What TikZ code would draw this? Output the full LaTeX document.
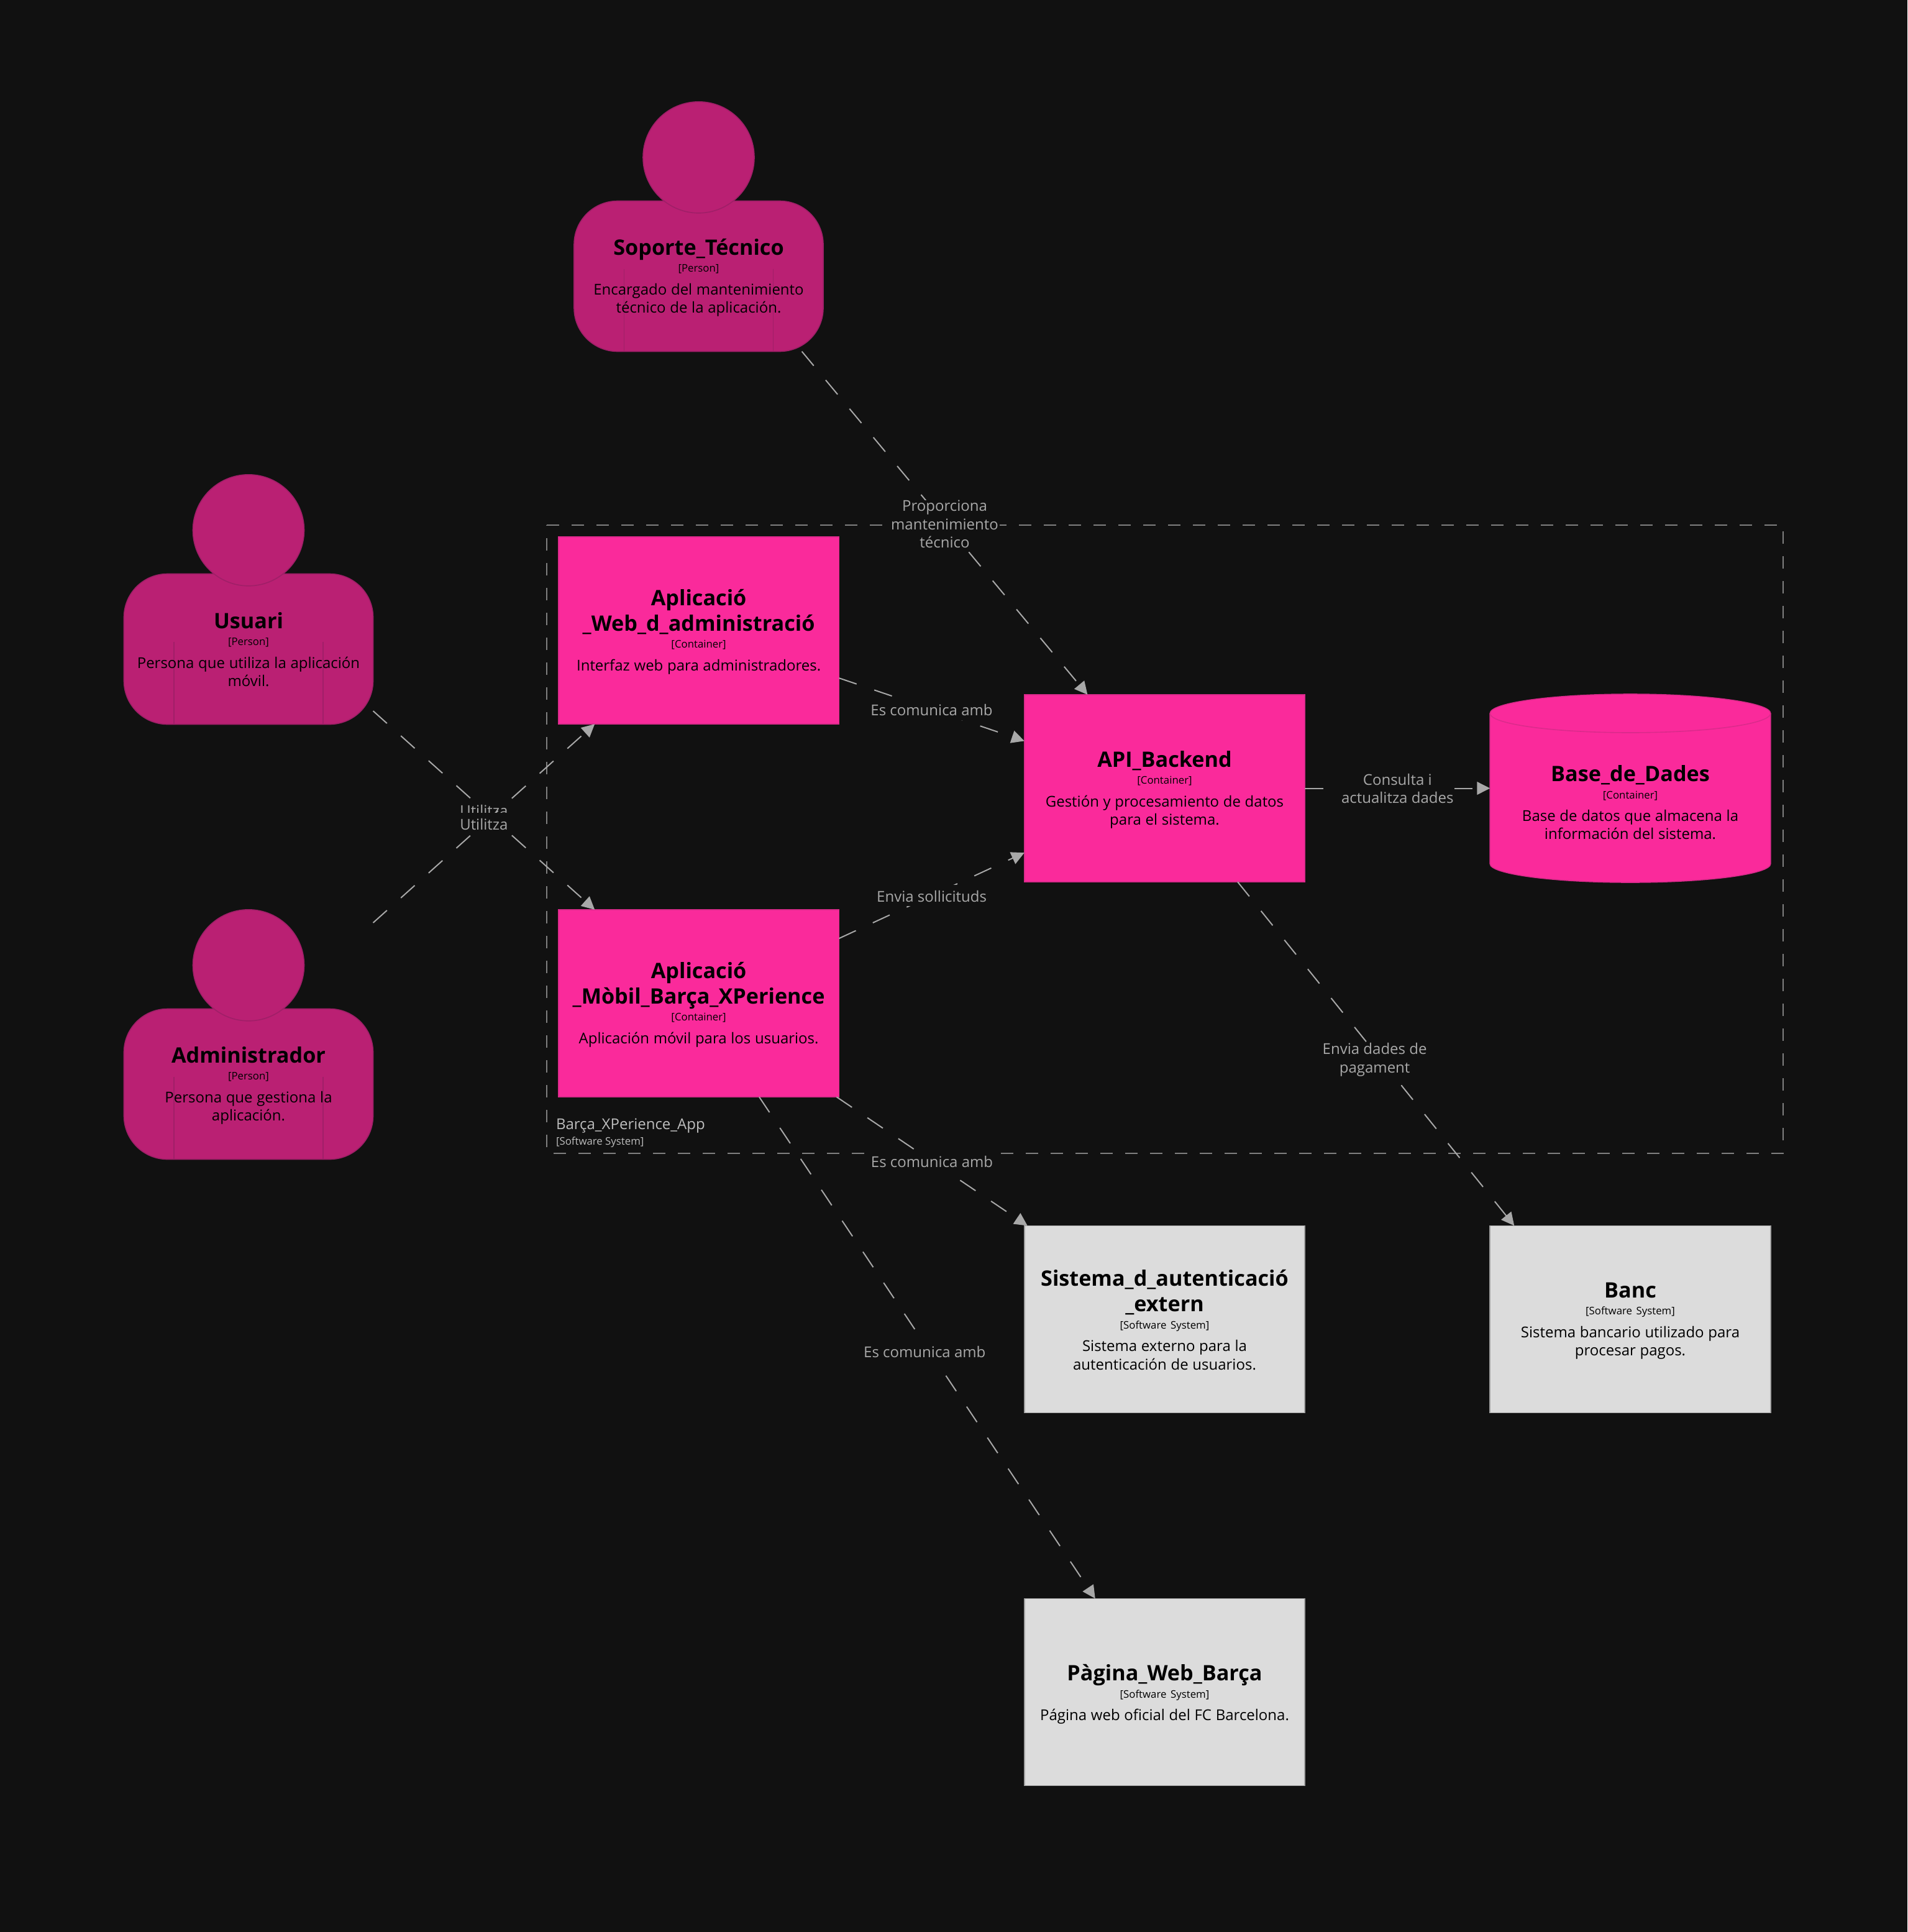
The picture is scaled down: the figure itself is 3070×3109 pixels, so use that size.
\documentclass[tikz,border=0pt]{standalone}
\usepackage{fontspec}
\setmainfont{Open Sans}
\usetikzlibrary{arrows.meta,calc}
\definecolor{bgc}{HTML}{111111}
\definecolor{pinkc}{HTML}{FA2A9B}
\definecolor{pinkl}{HTML}{DC2A8C}
\definecolor{persc}{HTML}{BA2073}
\definecolor{persl}{HTML}{A01F68}
\definecolor{greyc}{HTML}{DCDCDC}
\definecolor{greyl}{HTML}{A0A0A0}
\definecolor{relc}{HTML}{A8A8A8}
\definecolor{boundc}{HTML}{808080}
\definecolor{boundt}{HTML}{BDBDBD}
\newcommand{\titlef}{\fontsize{17.1}{20.5}\bfseries\selectfont}
\newcommand{\metaf}{\fontsize{8.4}{13.7}\selectfont}
\newcommand{\descf}{\fontsize{12}{14.65}\selectfont}
\tikzset{
  elembox/.style={rectangle,inner sep=0pt,outer sep=0pt,minimum width=225.75pt,minimum height=150.6pt,line width=.8pt},
  cbox/.style={elembox,fill=pinkc,draw=pinkl},
  sbox/.style={elembox,fill=greyc,draw=greyl},
  dbframe/.style={elembox},
  pframe/.style={rectangle,inner sep=0pt,outer sep=0pt,minimum width=200.5pt,minimum height=201pt},
  pbody/.style={rectangle,inner sep=0pt,outer sep=0pt,minimum width=200.5pt,minimum height=121pt,rounded corners=35pt,fill=persc,draw=persl,line width=.8pt},
  phead/.style={circle,inner sep=0pt,outer sep=0pt,minimum size=89.5pt,fill=persc,draw=persl,line width=.8pt},
  pline/.style={draw=persl,line width=.8pt},
  elemtext/.style={text width=224pt,inner sep=0pt,outer sep=0pt,align=center,text=black},
  rel/.style={draw=relc,line width=1pt,dash pattern=on 15pt off 15pt,-{Triangle[length=10.4pt,width=10.3pt,fill=relc]}},
  edgelabel/.style={fill=bgc,text=relc,font=\descf,align=center,inner xsep=1pt,inner ysep=0pt,outer sep=0pt,
    execute at begin node={\rule{0pt}{13.5pt}},execute at end node={\rule[-3.5pt]{0pt}{3.5pt}}},
  boundary/.style={draw=boundc,line width=1pt,dash pattern=on 10pt off 10pt},
  boundlabel/.style={anchor=base west,text=boundt,inner sep=0pt,outer sep=0pt}
}
\newcommand{\person}[3]{%
  \node[pframe] (#1) at (#2,#3) {};
  \node[pbody] (#1body) at ($(#1)+(0,80)$) {};
  \draw[pline] ($(#1)+(-120,68)$) -- ($(#1)+(-120,201)$);
  \draw[pline] ($(#1)+(120,68)$) -- ($(#1)+(120,201)$);
  \node[phead] (#1head) at ($(#1)+(0,-111.2)$) {};
}
\newcommand{\etxt}[5]{%
  \node[elemtext] (#1txt) at ($(#1)+(0,#2)$) {{\titlef #3\par}{\metaf #4\par}\vskip3.65pt{\descf #5\par}};
}
\begin{document}
\begin{tikzpicture}[x=.5pt,y=-.5pt]
\useasboundingbox (0,0) rectangle (3070,3109);
\fill[bgc] (0,0) rectangle (3070,3109);
\draw[boundary] (880,845) -- (2870,845) -- (2870,1855.5) -- (880,1855.5) -- cycle;
\node[boundlabel,font=\descf] (blabel) at (895,1817) {Barça\_XPerience\_App};
\node[boundlabel,font=\metaf] (bmeta) at (895,1842) {[Software System]};
% people
\person{soporte}{1124.5}{364.5}
\person{usuari}{400}{964.5}
\person{admin}{400}{1664.5}
% boxes
\node[cbox] (web) at (1124.6,1014.5) {};
\node[cbox] (mobile) at (1124.6,1614.5) {};
\node[cbox] (api) at (1874.5,1268.5) {};
\node[dbframe] (db) at (2624,1268.5) {};
\fill[pinkc,draw=pinkl,line width=.8pt] (2398.25,1148) arc[start angle=180,end angle=0,x radius=112.875pt,y radius=15.5pt] -- (2849.75,1390) arc[start angle=0,end angle=-180,x radius=112.875pt,y radius=15pt] -- cycle;
\draw[pinkl,line width=.8pt] (2398.25,1148) arc[start angle=180,end angle=360,x radius=112.875pt,y radius=15.5pt];
\node[sbox] (auth) at (1874.5,2123) {};
\node[sbox] (banc) at (2624,2123) {};
\node[sbox] (pagina) at (1874.5,2723) {};
% texts
\etxt{soporte}{82}{Soporte\_Técnico}{[Person]}{Encargado del mantenimiento\\técnico de la aplicación.}
\etxt{usuari}{80.5}{Usuari}{[Person]}{Persona que utiliza la aplicación\\móvil.}
\etxt{admin}{82.5}{Administrador}{[Person]}{Persona que gestiona la\\aplicación.}
\etxt{web}{2}{Aplicació\\\_Web\_d\_administració}{[Container]}{Interfaz web para administradores.}
\etxt{mobile}{2}{Aplicació\\\_Mòbil\_Barça\_XPerience}{[Container]}{Aplicación móvil para los usuarios.}
\etxt{api}{2.5}{API\_Backend}{[Container]}{Gestión y procesamiento de datos\\para el sistema.}
\etxt{db}{23}{Base\_de\_Dades}{[Container]}{Base de datos que almacena la\\información del sistema.}
\etxt{auth}{1}{Sistema\_d\_autenticació\\\_extern}{[Software System]}{Sistema externo para la\\autenticación de usuarios.}
\etxt{banc}{2.5}{Banc}{[Software System]}{Sistema bancario utilizado para\\procesar pagos.}
\etxt{pagina}{3.5}{Pàgina\_Web\_Barça}{[Software System]}{Página web oficial del FC Barcelona.}
% relationships
\draw[rel] (usuari) -- node[edgelabel] (l1) {Utilitza} (mobile);
\draw[rel] (admin) -- node[edgelabel] (l2) {Utilitza} (web);
\draw[rel] (soporte) -- node[edgelabel,yshift=-2.5pt] (l3) {Proporciona\\mantenimiento\\técnico} (api);
\draw[rel] (web) -- node[edgelabel] (l4) {Es comunica amb} (api);
\draw[rel] (mobile) -- node[edgelabel] (l5) {Envia sollicituds} (api);
\draw[rel] (api) -- node[edgelabel,yshift=-2pt] (l6) {Consulta i\\actualitza dades} (db);
\draw[rel] ($(api.south west)+(343.25,0)$) -- node[edgelabel,xshift=-1pt,yshift=-5pt] (l7) {Envia dades de\\pagament} ($(banc.north west)+(39,0)$);
\draw[rel] ($(mobile.south east)+(-4,0)$) -- node[edgelabel] (l8) {Es comunica amb} ($(auth.north west)+(5,0)$);
\draw[rel] ($(mobile.south west)+(323,0)$) -- node[edgelabel,xshift=-2pt,yshift=-3pt] (l9) {Es comunica amb} ($(pagina.north west)+(114,0)$);
\end{tikzpicture}
\end{document}
